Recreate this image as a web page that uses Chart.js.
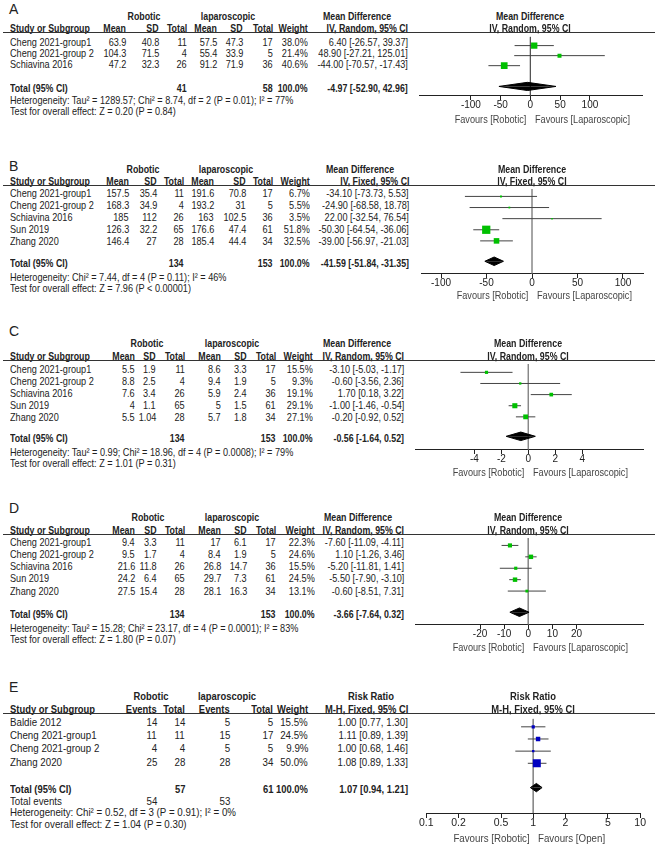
<!DOCTYPE html>
<html lang="en">
<head>
<meta charset="UTF-8">
<title>Forest plots - Robotic vs laparoscopic</title>
<script src="https://cdn.jsdelivr.net/npm/chart.js"></script>
<style>
  body { margin: 0; background: #fff; }
  #page { position: relative; width: 667px; height: 846px; overflow: hidden; font-family: "Liberation Sans", Arial, sans-serif; color: #222; }
  .t { position: absolute; white-space: nowrap; font-size: 10.5px; line-height: 11px; height: 11px; }
  .b { font-weight: bold; }
  .big { font-size: 11.2px; }
  .lbl { font-size: 14px; line-height: 14px; height: 14px; }
  .fav { color: #444; }
  .rule { position: absolute; height: 1px; background: #333; }
  canvas { position: absolute; }
</style>
</head>
<body>
<div id="page"></div>
<script>
// ---- A
const studyA = ['Cheng 2021-group1', 'Cheng 2021-group 2', 'Schiavina 2016'];
const robMeanA = [63.9, 104.3, 47.2];
const robSdA = [40.8, 71.5, 32.3];
const robNA = [11, 4, 26];
const lapMeanA = [57.5, 55.4, 91.2];
const lapSdA = [47.3, 33.9, 71.9];
const lapNA = [17, 5, 36];
const weightA = [38.0, 21.4, 40.6];
const mdA = [6.40, 48.90, -44.00];
const loA = [-26.57, -27.21, -70.57];
const hiA = [39.37, 125.01, -17.43];
const totalA = [-4.97, -52.90, 42.96];
const totalNA = [41, 58];
const ticksA = [-100, -50, 0, 50, 100];
const hetA = 'Heterogeneity: Tau² = 1289.57; Chi² = 8.74, df = 2 (P = 0.01); I² = 77%';
const testA = 'Test for overall effect: Z = 0.20 (P = 0.84)';

// ---- B
const studyB = ['Cheng 2021-group1', 'Cheng 2021-group 2', 'Schiavina 2016', 'Sun 2019', 'Zhang 2020'];
const robMeanB = [157.5, 168.3, 185, 126.3, 146.4];
const robSdB = [35.4, 34.9, 112, 32.2, 27];
const robNB = [11, 4, 26, 65, 28];
const lapMeanB = [191.6, 193.2, 163, 176.6, 185.4];
const lapSdB = [70.8, 31, 102.5, 47.4, 44.4];
const lapNB = [17, 5, 36, 61, 34];
const weightB = [6.7, 5.5, 3.5, 51.8, 32.5];
const mdB = [-34.10, -24.90, 22.00, -50.30, -39.00];
const loB = [-73.73, -68.58, -32.54, -64.54, -56.97];
const hiB = [5.53, 18.78, 76.54, -36.06, -21.03];
const totalB = [-41.59, -51.84, -31.35];
const totalNB = [134, 153];
const ticksB = [-100, -50, 0, 50, 100];
const hetB = 'Heterogeneity: Chi² = 7.44, df = 4 (P = 0.11); I² = 46%';
const testB = 'Test for overall effect: Z = 7.96 (P < 0.00001)';

// ---- C
const studyC = ['Cheng 2021-group1', 'Cheng 2021-group 2', 'Schiavina 2016', 'Sun 2019', 'Zhang 2020'];
const robMeanC = [5.5, 8.8, 7.6, 4, 5.5];
const robSdC = [1.9, 2.5, 3.4, 1.1, 1.04];
const robNC = [11, 4, 26, 65, 28];
const lapMeanC = [8.6, 9.4, 5.9, 5, 5.7];
const lapSdC = [3.3, 1.9, 2.4, 1.5, 1.8];
const lapNC = [17, 5, 36, 61, 34];
const weightC = [15.5, 9.3, 19.1, 29.1, 27.1];
const mdC = [-3.10, -0.60, 1.70, -1.00, -0.20];
const loC = [-5.03, -3.56, 0.18, -1.46, -0.92];
const hiC = [-1.17, 2.36, 3.22, -0.54, 0.52];
const totalC = [-0.56, -1.64, 0.52];
const totalNC = [134, 153];
const ticksC = [-4, -2, 0, 2, 4];
const hetC = 'Heterogeneity: Tau² = 0.99; Chi² = 18.96, df = 4 (P = 0.0008); I² = 79%';
const testC = 'Test for overall effect: Z = 1.01 (P = 0.31)';

// ---- D
const studyD = ['Cheng 2021-group1', 'Cheng 2021-group 2', 'Schiavina 2016', 'Sun 2019', 'Zhang 2020'];
const robMeanD = [9.4, 9.5, 21.6, 24.2, 27.5];
const robSdD = [3.3, 1.7, 11.8, 6.4, 15.4];
const robND = [11, 4, 26, 65, 28];
const lapMeanD = [17, 8.4, 26.8, 29.7, 28.1];
const lapSdD = [6.1, 1.9, 14.7, 7.3, 16.3];
const lapND = [17, 5, 36, 61, 34];
const weightD = [22.3, 24.6, 15.5, 24.5, 13.1];
const mdD = [-7.60, 1.10, -5.20, -5.50, -0.60];
const loD = [-11.09, -1.26, -11.81, -7.90, -8.51];
const hiD = [-4.11, 3.46, 1.41, -3.10, 7.31];
const totalD = [-3.66, -7.64, 0.32];
const totalND = [134, 153];
const ticksD = [-20, -10, 0, 10, 20];
const hetD = 'Heterogeneity: Tau² = 15.28; Chi² = 23.17, df = 4 (P = 0.0001); I² = 83%';
const testD = 'Test for overall effect: Z = 1.80 (P = 0.07)';

// ---- E (risk ratio)
const studyE = ['Baldie 2012', 'Cheng 2021-group1', 'Cheng 2021-group 2', 'Zhang 2020'];
const robEvE = [14, 11, 4, 25];
const robNE = [14, 11, 4, 28];
const lapEvE = [5, 15, 5, 28];
const lapNE = [5, 17, 5, 34];
const weightE = [15.5, 24.5, 9.9, 50.0];
const rrE = [1.00, 1.11, 1.00, 1.08];
const loE = [0.77, 0.89, 0.68, 0.89];
const hiE = [1.30, 1.39, 1.46, 1.33];
const totalE = [1.07, 0.94, 1.21];
const totalNE = [57, 61];
const totalEvE = [54, 53];
const ticksE = [0.1, 0.2, 0.5, 1, 2, 5, 10];
const hetE = 'Heterogeneity: Chi² = 0.52, df = 3 (P = 0.91); I² = 0%';
const testE = 'Test for overall effect: Z = 1.04 (P = 0.30)';

const mdHeads = ['Mean', 'SD', 'Total', 'Mean', 'SD', 'Total'];
const GREEN = 'rgb(0,192,0)';
const BLUE = 'rgb(0,0,192)';

const panels = [
  { letter: 'A', studies: studyA, cols: [robMeanA, robSdA, robNA, lapMeanA, lapSdA, lapNA], heads: mdHeads,
    weight: weightA, est: mdA, lo: loA, hi: hiA, total: totalA, totalN: totalNA, nIdx: [2, 5], ticks: ticksA,
    het: hetA, test: testA, effect: 'Mean Difference', method: 'IV, Random, 95% CI', right: 'Favours [Laparoscopic]',
    colX: [126, 159, 187, 217, 243, 273], wX: 308, ciX: 408, robX: 144, lapX: 228, effX: 357,
    letterY: 8.5, h1Y: 16, h2Y: 28, lineY: 32, row0: 42, rowPx: 11.3, totalY: 88, hetY: 100, testY: 111,
    axisY: 98, favY: 119, plotL: 415, plotW: 232, xMin: -186, xMax: 188, ref: 0, refColor: '#555', mark: GREEN },
  { letter: 'B', studies: studyB, cols: [robMeanB, robSdB, robNB, lapMeanB, lapSdB, lapNB], heads: mdHeads,
    weight: weightB, est: mdB, lo: loB, hi: hiB, total: totalB, totalN: totalNB, nIdx: [2, 5], ticks: ticksB,
    het: hetB, test: testB, effect: 'Mean Difference', method: 'IV, Fixed, 95% CI', right: 'Favours [Laparoscopic]',
    colX: [129, 157, 184, 214, 246, 273], wX: 310, ciX: 409, robX: 143, lapX: 226, effX: 360,
    letterY: 166, h1Y: 169, h2Y: 181, lineY: 185, row0: 193, rowPx: 12, totalY: 263, hetY: 277, testY: 288,
    axisY: 276, favY: 295, plotL: 417, plotW: 230, xMin: -122, xMax: 122, ref: 0, refColor: '#999', mark: GREEN },
  { letter: 'C', studies: studyC, cols: [robMeanC, robSdC, robNC, lapMeanC, lapSdC, lapNC], heads: mdHeads,
    weight: weightC, est: mdC, lo: loC, hi: hiC, total: totalC, totalN: totalNC, nIdx: [2, 5], ticks: ticksC,
    het: hetC, test: testC, effect: 'Mean Difference', method: 'IV, Random, 95% CI', right: 'Favours [Laparoscopic]',
    colX: [135, 156, 185, 221, 247, 276], wX: 313, ciX: 404, robX: 147, lapX: 232, effX: 357,
    letterY: 331, h1Y: 343, h2Y: 356, lineY: 360, row0: 369, rowPx: 12, totalY: 438, hetY: 452, testY: 463,
    axisY: 452, favY: 472, plotL: 411, plotW: 236, xMin: -8.4, xMax: 8.5, ref: 0, refColor: '#888', mark: GREEN },
  { letter: 'D', studies: studyD, cols: [robMeanD, robSdD, robND, lapMeanD, lapSdD, lapND], heads: mdHeads,
    weight: weightD, est: mdD, lo: loD, hi: hiD, total: totalD, totalN: totalND, nIdx: [2, 5], ticks: ticksD,
    het: hetD, test: testD, effect: 'Mean Difference', method: 'IV, Random, 95% CI', right: 'Favours [Laparoscopic]',
    colX: [135, 157, 185, 221, 247, 276], wX: 315, ciX: 404, robX: 148, lapX: 232, effX: 358,
    letterY: 508, h1Y: 517, h2Y: 530, lineY: 534, row0: 542, rowPx: 12.3, totalY: 614, hetY: 628, testY: 639,
    axisY: 627, favY: 647, plotL: 411, plotW: 236, xMin: -47, xMax: 47.6, ref: 0, refColor: '#888', mark: GREEN },
  { letter: 'E', studies: studyE, cols: [robEvE, robNE, lapEvE, lapNE], heads: ['Events', 'Total', 'Events', 'Total'],
    weight: weightE, est: rrE, lo: loE, hi: hiE, total: totalE, totalN: totalNE, nIdx: [1, 3], ticks: ticksE,
    events: totalEvE, evIdx: [0, 2], big: true,
    het: hetE, test: testE, effect: 'Risk Ratio', method: 'M-H, Fixed, 95% CI', right: 'Favours [Open]',
    colX: [157, 185, 230, 273], wX: 308, ciX: 408, robX: 151, lapX: 227, effX: 371,
    letterY: 687, h1Y: 696, h2Y: 709, lineY: 713, row0: 722, rowPx: 13.4, totalY: 789, evY: 801, hetY: 812, testY: 824,
    axisY: 817, favY: 838, plotL: 419, plotW: 227, xMin: 0.1, xMax: 10, log: true, ref: 1, refColor: '#888', mark: BLUE }
];

const page = document.getElementById('page');

// text is a little condensed in the original, squeeze it horizontally
function txt(x, y, s, align, cls) {
  cls = cls || '';
  const d = document.createElement('div');
  d.className = 't ' + cls;
  d.textContent = s;
  const isLbl = cls.indexOf('lbl') >= 0;
  const k = isLbl ? 1 : (cls.indexOf('b') === 0 ? 0.84 : 0.87);
  d.style.top = (y - (isLbl ? 7 : 5.5)) + 'px';
  if (align === 'r') {
    d.style.right = (667 - x) + 'px';
    d.style.transformOrigin = 'right center';
    d.style.transform = 'scaleX(' + k + ')';
  } else if (align === 'c') {
    d.style.left = x + 'px';
    d.style.transformOrigin = 'center center';
    d.style.transform = 'translateX(-50%) scaleX(' + k + ')';
  } else {
    d.style.left = x + 'px';
    d.style.transformOrigin = 'left center';
    d.style.transform = 'scaleX(' + k + ')';
  }
  page.appendChild(d);
}

function rule(x, y, w) {
  const d = document.createElement('div');
  d.className = 'rule';
  d.style.left = x + 'px';
  d.style.top = y + 'px';
  d.style.width = w + 'px';
  page.appendChild(d);
}

const ci = (e, l, h) => e.toFixed(2) + ' [' + l.toFixed(2) + ', ' + h.toFixed(2) + ']';

function drawPanel(p) {
  const f = p.big ? ' big' : '';
  const bf = 'b' + f;

  // table
  txt(9, p.letterY, p.letter, 'l', 'lbl');
  txt(p.robX, p.h1Y, 'Robotic', 'c', bf);
  txt(p.lapX, p.h1Y, 'laparoscopic', 'c', bf);
  txt(p.effX, p.h1Y, p.effect, 'c', bf);
  txt(10, p.h2Y, 'Study or Subgroup', 'l', bf);
  p.heads.forEach((h, k) => txt(p.colX[k], p.h2Y, h, 'r', bf));
  txt(p.wX, p.h2Y, 'Weight', 'r', bf);
  txt(p.ciX, p.h2Y, p.method, 'r', bf);
  rule(3, p.lineY, 652);

  p.studies.forEach((s, i) => {
    const y = p.row0 + i * p.rowPx;
    txt(10, y, s, 'l', f);
    p.cols.forEach((c, k) => txt(p.colX[k], y, String(c[i]), 'r', f));
    txt(p.wX, y, p.weight[i].toFixed(1) + '%', 'r', f);
    txt(p.ciX, y, ci(p.est[i], p.lo[i], p.hi[i]), 'r', f);
  });

  txt(10, p.totalY, 'Total (95% CI)', 'l', bf);
  txt(p.colX[p.nIdx[0]], p.totalY, String(p.totalN[0]), 'r', bf);
  txt(p.colX[p.nIdx[1]], p.totalY, String(p.totalN[1]), 'r', bf);
  txt(p.wX, p.totalY, '100.0%', 'r', bf);
  txt(p.ciX, p.totalY, ci(p.total[0], p.total[1], p.total[2]), 'r', bf);
  if (p.events) {
    txt(10, p.evY, 'Total events', 'l', f);
    txt(p.colX[p.evIdx[0]], p.evY, String(p.events[0]), 'r', f);
    txt(p.colX[p.evIdx[1]], p.evY, String(p.events[1]), 'r', f);
  }
  txt(10, p.hetY, p.het, 'l', f);
  txt(10, p.testY, p.test, 'l', f);

  // plot
  const H = p.axisY - p.lineY + 18;
  const yMin = (p.lineY - p.row0) / p.rowPx;
  const yMax = yMin + H / p.rowPx;
  const totRow = (p.totalY - p.row0) / p.rowPx;
  const axisRow = (p.axisY - p.row0) / p.rowPx;
  const dh = 4.6 / p.rowPx;

  const canvas = document.createElement('canvas');
  canvas.width = p.plotW;
  canvas.height = H;
  canvas.style.left = p.plotL + 'px';
  canvas.style.top = p.lineY + 'px';
  page.appendChild(canvas);

  const datasets = [];
  // study squares (drawn on top)
  datasets.push({
    data: p.est.map((v, i) => ({ x: v, y: i })),
    showLine: false,
    pointStyle: 'rect',
    pointRadius: p.weight.map(w => (1 + 0.14 * w) / Math.SQRT2),
    pointBackgroundColor: p.mark,
    pointBorderWidth: 0
  });
  // diamond, two halves filled to the total row
  [-dh, dh].forEach(d => {
    datasets.push({
      data: [{ x: p.total[1], y: totRow }, { x: p.total[0], y: totRow + d }, { x: p.total[2], y: totRow }],
      borderColor: '#000', borderWidth: 1, backgroundColor: '#000',
      fill: { value: totRow }, pointRadius: 0
    });
  });
  // confidence intervals
  p.studies.forEach((s, i) => {
    datasets.push({
      data: [{ x: p.lo[i], y: i }, { x: p.hi[i], y: i }],
      borderColor: '#444', borderWidth: 1, pointRadius: 0, fill: false
    });
  });
  // line of no effect
  datasets.push({
    data: [{ x: p.ref, y: yMin }, { x: p.ref, y: axisRow }],
    borderColor: p.refColor, borderWidth: 1, pointRadius: 0, fill: false
  });

  const chart = new Chart(canvas, {
    type: 'line',
    data: { datasets },
    options: {
      responsive: false,
      animation: false,
      layout: { padding: 0 },
      plugins: { legend: { display: false }, tooltip: { enabled: false } },
      scales: {
        x: {
          type: p.log ? 'logarithmic' : 'linear',
          min: p.xMin,
          max: p.xMax,
          bounds: 'data',
          position: { y: axisRow },
          grid: { drawOnChartArea: false, drawTicks: true, tickLength: 4, tickColor: '#222' },
          border: { display: true, color: '#222', width: 1 },
          afterBuildTicks: s => { s.ticks = p.ticks.map(v => ({ value: v })); },
          ticks: {
            autoSkip: false, maxRotation: 0, padding: 0, color: '#222',
            font: { family: 'Liberation Sans', size: p.big ? 10.5 : 10 },
            callback: v => String(v)
          }
        },
        y: { type: 'linear', display: false, reverse: true, min: yMin, max: yMax }
      }
    }
  });

  const zeroPx = p.plotL + chart.scales.x.getPixelForValue(p.ref);
  txt(zeroPx, p.h1Y, p.effect, 'c', bf);
  txt(zeroPx, p.h2Y, p.method, 'c', bf);
  txt(zeroPx - 4, p.favY, 'Favours [Robotic]', 'r', 'fav' + f);
  txt(zeroPx + 5, p.favY, p.right, 'l', 'fav' + f);
}

panels.forEach(drawPanel);
</script>
</body>
</html>
